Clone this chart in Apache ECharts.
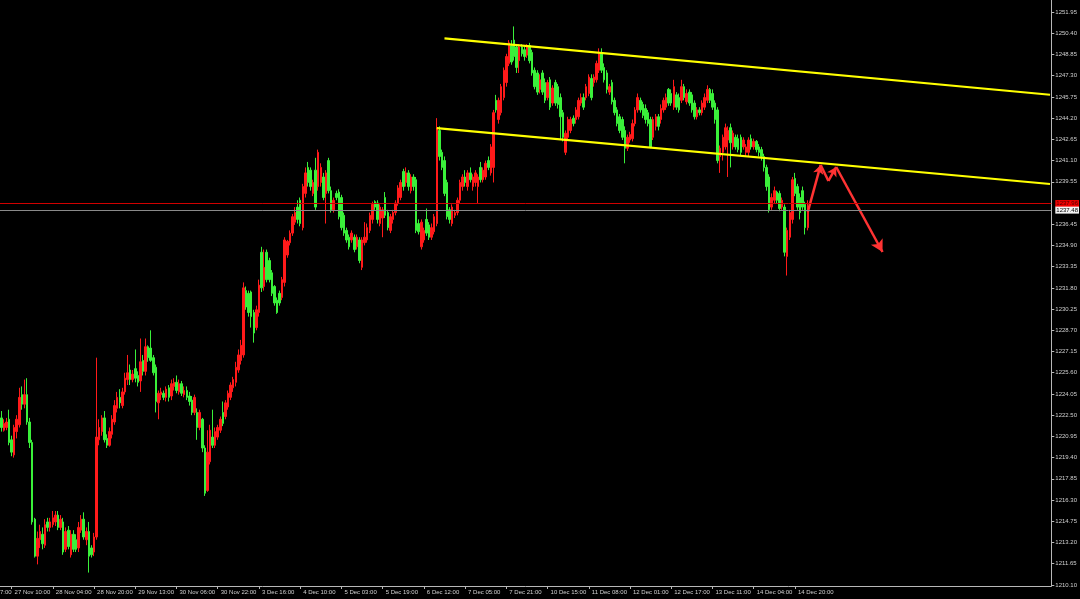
<!DOCTYPE html>
<html><head><meta charset="utf-8">
<script src="https://cdn.jsdelivr.net/npm/echarts@6.0.0/dist/echarts.min.js"></script>
<style>html,body{margin:0;padding:0;background:#000;}#c{width:1080px;height:599px;}</style>
</head><body><div id="c"></div>
<script>
// [open, close, low, high] per H1 bar (XAUUSD)
const ohlc = [
[1222.3,1221.6,1221.3,1222.8],[1221.4,1221.9,1221.3,1222.2],[1221.6,1222.0,1221.4,1222.3],[1222.2,1220.5,1220.3,1222.9],
[1220.7,1219.8,1219.5,1221.0],[1219.6,1221.6,1219.4,1221.8],[1221.3,1222.2,1220.8,1222.5],[1221.8,1223.8,1221.6,1224.5],
[1224.0,1223.3,1222.9,1224.6],[1223.3,1224.0,1223.0,1225.1],[1224.0,1222.0,1221.8,1225.2],[1222.0,1220.5,1220.1,1222.3],
[1220.5,1214.7,1214.5,1220.7],[1214.9,1212.2,1212.1,1215.0],[1212.2,1213.5,1211.6,1214.0],[1213.4,1214.0,1212.8,1214.5],
[1213.8,1213.1,1212.7,1214.3],[1213.0,1214.5,1212.8,1214.9],[1214.7,1214.3,1214.0,1215.0],[1214.3,1214.7,1214.0,1215.0],
[1214.5,1215.0,1214.3,1215.5],[1214.7,1215.2,1214.4,1215.5],[1215.2,1214.3,1214.1,1215.5],[1214.3,1214.9,1214.1,1215.2],
[1214.7,1212.5,1212.3,1215.0],[1212.7,1214.0,1212.5,1214.3],[1214.1,1212.9,1212.7,1214.4],[1212.3,1213.8,1212.1,1214.1],
[1213.8,1212.7,1212.5,1214.1],[1213.4,1212.7,1212.5,1213.8],[1212.8,1214.3,1212.5,1214.7],[1214.1,1214.9,1213.9,1215.2],
[1214.9,1213.6,1213.4,1215.4],[1213.4,1214.0,1213.0,1214.3],[1214.0,1212.2,1211.0,1214.7],[1212.8,1212.3,1212.1,1213.0],
[1212.5,1213.6,1212.2,1213.9],[1213.6,1220.9,1213.4,1226.7],[1220.7,1221.6,1220.3,1222.2],[1221.3,1222.3,1221.0,1222.5],
[1222.3,1220.7,1220.5,1222.8],[1220.8,1220.3,1220.1,1221.1],[1220.3,1221.3,1220.2,1221.6],[1221.1,1222.2,1220.8,1222.5],
[1222.0,1223.2,1221.8,1223.6],[1223.0,1223.8,1222.7,1224.2],[1223.8,1223.4,1223.0,1224.4],[1223.2,1224.2,1223.0,1224.5],
[1224.2,1225.2,1224.0,1225.6],[1225.1,1225.6,1224.7,1226.9],[1225.8,1225.1,1224.7,1226.2],[1225.1,1225.5,1224.9,1225.8],
[1225.9,1225.2,1224.9,1227.3],[1225.4,1224.9,1224.6,1225.7],[1225.0,1226.4,1224.2,1228.1],[1226.5,1225.7,1225.4,1226.9],
[1225.7,1227.5,1225.4,1228.1],[1227.5,1226.7,1226.4,1227.6],[1227.4,1226.5,1226.4,1228.7],[1226.7,1225.6,1225.4,1226.9],
[1226.0,1223.5,1222.7,1226.2],[1223.4,1224.1,1222.2,1224.3],[1224.0,1224.2,1223.6,1224.5],[1224.1,1223.8,1223.6,1224.3],
[1223.8,1224.4,1223.5,1224.6],[1224.5,1223.8,1223.5,1224.7],[1223.9,1224.8,1223.6,1225.1],[1224.6,1224.9,1224.3,1225.2],
[1224.9,1224.3,1224.1,1225.4],[1224.2,1224.8,1224.0,1225.1],[1224.8,1224.1,1223.9,1225.0],[1224.0,1224.3,1223.8,1224.6],
[1224.3,1223.8,1223.6,1224.6],[1223.9,1223.5,1223.2,1224.2],[1223.6,1222.7,1222.5,1223.9],[1222.7,1223.8,1222.5,1224.0],
[1222.7,1221.6,1220.7,1223.0],[1221.6,1222.7,1221.4,1222.9],[1222.2,1220.1,1219.8,1222.3],[1220.1,1216.8,1216.6,1220.3],
[1217.0,1219.8,1216.9,1221.4],[1219.1,1221.4,1218.9,1221.8],[1220.9,1220.3,1220.1,1222.9],[1220.3,1221.3,1220.1,1221.6],
[1220.9,1221.6,1220.7,1221.8],[1221.4,1222.2,1221.2,1222.4],[1222.7,1221.9,1221.7,1223.5],[1222.4,1223.4,1222.2,1223.6],
[1223.1,1224.1,1222.9,1224.3],[1223.8,1224.7,1223.6,1224.9],[1224.5,1225.1,1224.2,1225.3],[1224.9,1226.0,1224.6,1226.4],
[1225.8,1226.9,1225.6,1227.3],[1226.5,1227.6,1226.2,1228.0],[1226.9,1231.8,1226.7,1232.2],[1231.6,1230.4,1230.2,1231.9],
[1231.4,1230.0,1229.7,1231.6],[1231.5,1229.7,1228.9,1231.6],[1230.0,1228.5,1227.8,1230.2],[1228.9,1230.2,1228.7,1230.5],
[1230.0,1232.0,1229.7,1232.4],[1234.4,1231.8,1231.5,1234.8],[1231.9,1233.3,1231.6,1234.6],[1234.4,1232.4,1232.2,1234.6],
[1233.8,1232.4,1232.2,1234.0],[1232.9,1231.4,1231.2,1233.1],[1231.9,1230.7,1230.5,1232.0],[1230.9,1230.0,1229.9,1231.1],
[1231.4,1230.7,1230.5,1231.6],[1231.1,1232.4,1230.9,1232.6],[1232.2,1235.3,1231.9,1235.5],[1234.2,1235.2,1234.0,1235.3],
[1235.1,1235.8,1234.9,1236.0],[1235.8,1237.0,1235.6,1237.2],[1236.6,1237.3,1236.4,1237.7],[1237.7,1236.8,1236.5,1238.2],
[1238.2,1236.5,1236.3,1238.4],[1236.2,1239.2,1236.0,1239.4],[1238.7,1240.2,1238.4,1240.6],[1240.6,1239.5,1239.2,1241.0],
[1240.4,1239.2,1238.9,1240.6],[1238.7,1239.5,1238.5,1239.7],[1240.4,1237.7,1237.5,1241.3],[1239.2,1241.7,1238.9,1241.9],
[1239.5,1240.6,1239.2,1240.9],[1239.9,1238.4,1238.2,1240.2],[1238.7,1240.2,1236.5,1240.4],[1241.1,1238.9,1238.7,1241.3],
[1238.9,1237.5,1237.3,1239.2],[1237.5,1238.2,1237.3,1238.4],[1238.7,1238.4,1238.2,1238.9],[1238.8,1237.0,1236.8,1239.0],
[1238.4,1236.2,1236.0,1238.6],[1237.1,1235.8,1235.6,1237.3],[1236.0,1235.3,1235.1,1236.2],[1235.5,1234.8,1234.6,1235.7],
[1235.3,1235.8,1235.1,1236.0],[1235.5,1234.6,1234.4,1235.7],[1234.8,1235.5,1234.6,1235.7],[1235.3,1233.8,1233.6,1235.5],
[1233.3,1235.3,1233.1,1235.5],[1235.1,1235.5,1234.9,1236.6],[1235.3,1236.2,1235.1,1236.5],[1236.0,1237.1,1235.8,1237.3],
[1236.8,1237.9,1236.5,1238.1],[1238.1,1237.7,1237.5,1238.2],[1238.0,1236.8,1236.5,1238.2],[1236.5,1237.7,1236.3,1237.9],
[1236.9,1237.5,1235.5,1237.7],[1238.4,1237.1,1236.9,1238.8],[1237.3,1236.2,1236.0,1237.5],[1236.0,1237.0,1235.8,1237.2],
[1236.8,1237.3,1236.5,1237.5],[1237.3,1238.0,1237.1,1238.2],[1238.0,1239.1,1237.8,1239.3],[1238.4,1239.5,1238.2,1239.7],
[1240.3,1239.2,1238.9,1240.5],[1239.5,1240.2,1239.2,1240.6],[1240.2,1239.2,1238.9,1240.4],[1238.9,1239.9,1238.7,1240.1],
[1239.9,1239.2,1238.9,1240.1],[1239.7,1236.0,1235.8,1239.9],[1236.5,1235.9,1235.7,1236.8],[1234.8,1236.6,1234.6,1236.8],
[1235.3,1236.0,1235.1,1236.2],[1236.8,1235.8,1235.6,1237.6],[1236.4,1235.5,1235.3,1236.6],[1235.5,1236.2,1235.3,1236.5],
[1235.9,1237.0,1235.7,1237.2],[1236.5,1243.5,1236.3,1244.2],[1243.3,1241.4,1241.1,1243.6],[1241.7,1240.6,1240.4,1241.9],
[1241.1,1238.7,1238.5,1241.4],[1239.5,1237.0,1236.8,1239.7],[1237.5,1236.8,1236.5,1237.7],[1236.5,1237.7,1236.3,1237.9],
[1237.1,1237.3,1236.9,1237.5],[1237.3,1238.2,1237.1,1238.4],[1238.2,1239.5,1238.0,1239.7],[1239.2,1239.9,1238.9,1240.1],
[1239.9,1239.5,1239.2,1240.4],[1239.2,1240.2,1238.9,1240.4],[1240.2,1239.7,1239.5,1240.6],[1239.2,1239.9,1238.9,1240.1],
[1239.5,1240.2,1239.2,1240.4],[1239.2,1239.9,1238.0,1240.1],[1240.6,1239.7,1239.5,1241.0],[1239.7,1240.4,1239.5,1240.6],
[1239.9,1240.9,1239.7,1241.1],[1241.1,1240.6,1240.4,1241.4],[1240.2,1242.1,1240.0,1242.3],[1240.6,1244.6,1239.5,1244.8],
[1245.5,1244.8,1244.6,1245.9],[1244.1,1245.5,1243.8,1245.7],[1244.6,1246.5,1244.4,1246.7],[1245.7,1247.7,1245.5,1247.9],
[1246.8,1248.7,1246.5,1248.9],[1248.2,1249.7,1248.0,1249.9],[1249.5,1248.3,1248.1,1249.9],[1249.9,1248.7,1248.4,1250.9],
[1249.4,1247.9,1247.5,1249.6],[1248.4,1249.4,1247.5,1249.6],[1249.4,1248.9,1248.7,1249.6],[1249.2,1248.7,1248.4,1249.4],
[1248.8,1249.4,1248.6,1249.6],[1249.5,1248.4,1248.2,1249.7],[1249.0,1247.5,1247.3,1249.2],[1247.7,1246.5,1246.3,1247.9],
[1247.5,1246.1,1245.9,1247.7],[1246.3,1247.0,1246.0,1247.4],[1247.5,1246.1,1245.9,1247.7],[1246.8,1245.5,1245.3,1247.1],
[1245.7,1246.8,1245.5,1247.0],[1247.0,1245.0,1244.8,1247.2],[1245.3,1246.4,1245.1,1246.6],[1246.8,1245.3,1245.1,1247.0],
[1246.5,1245.2,1244.9,1246.7],[1245.7,1244.3,1242.6,1246.0],[1244.6,1242.8,1242.5,1244.8],[1241.7,1243.1,1241.5,1243.3],
[1242.8,1244.1,1242.6,1244.3],[1243.3,1244.1,1243.1,1244.3],[1244.2,1243.8,1243.6,1244.4],[1244.1,1244.8,1243.8,1245.0],
[1244.3,1245.5,1244.1,1245.7],[1245.3,1245.7,1245.1,1246.0],[1245.7,1245.0,1244.8,1246.0],[1245.7,1246.5,1245.5,1246.7],
[1246.0,1247.2,1245.8,1247.4],[1247.1,1245.7,1245.5,1247.4],[1246.8,1247.2,1246.5,1247.4],[1247.0,1248.2,1246.8,1248.4],
[1247.7,1248.9,1247.5,1249.3],[1248.9,1247.7,1247.5,1249.3],[1247.9,1247.0,1246.8,1248.2],[1247.5,1246.3,1246.0,1247.7],
[1246.1,1246.5,1245.9,1246.7],[1246.8,1245.4,1245.2,1247.0],[1245.5,1244.6,1244.4,1245.7],[1244.8,1243.8,1243.6,1245.0],
[1244.3,1243.3,1243.1,1244.5],[1244.1,1242.8,1242.6,1244.3],[1243.3,1242.0,1240.9,1243.6],[1242.0,1242.8,1241.8,1243.0],
[1242.6,1243.0,1242.4,1243.2],[1242.7,1243.8,1242.5,1244.1],[1243.8,1244.8,1243.6,1245.0],[1244.8,1245.7,1244.6,1246.0],
[1245.5,1244.8,1244.6,1245.7],[1245.2,1244.4,1244.2,1245.4],[1244.9,1244.1,1243.8,1245.2],[1244.6,1243.8,1243.6,1244.8],
[1244.1,1242.1,1242.0,1244.3],[1242.8,1244.1,1242.6,1244.3],[1243.6,1244.3,1243.3,1244.5],[1244.3,1243.6,1243.3,1244.5],
[1244.1,1244.9,1243.8,1245.2],[1244.8,1245.5,1244.6,1245.7],[1245.0,1245.7,1244.8,1246.0],[1246.3,1245.3,1245.1,1246.4],
[1246.0,1245.3,1245.1,1246.3],[1245.0,1246.5,1244.8,1247.0],[1245.9,1245.0,1244.8,1246.1],[1245.7,1244.8,1244.6,1246.0],
[1245.5,1246.5,1245.3,1247.0],[1246.5,1245.7,1245.5,1246.7],[1245.4,1246.0,1245.2,1246.3],[1246.1,1245.3,1245.1,1246.3],
[1245.9,1244.8,1244.6,1246.1],[1245.3,1244.3,1244.1,1245.5],[1244.3,1244.8,1244.1,1245.0],[1244.8,1244.6,1244.4,1245.0],
[1244.6,1245.3,1244.4,1245.5],[1245.0,1245.7,1244.8,1246.0],[1245.5,1246.3,1245.3,1246.6],[1246.3,1245.5,1245.3,1246.4],
[1246.0,1245.0,1244.8,1246.3],[1245.3,1244.1,1243.8,1245.5],[1244.8,1241.1,1240.9,1245.0],[1241.4,1242.0,1240.2,1242.2],
[1241.7,1242.8,1241.1,1243.0],[1242.1,1243.5,1241.9,1243.8],[1242.6,1243.3,1239.9,1243.6],[1243.5,1242.4,1240.6,1243.8],
[1242.1,1243.1,1241.9,1243.3],[1242.8,1242.1,1241.9,1243.0],[1242.7,1241.9,1241.7,1243.0],[1242.8,1241.7,1241.5,1243.0],
[1242.1,1242.6,1241.9,1242.8],[1241.7,1242.1,1241.4,1242.3],[1241.7,1242.6,1241.4,1242.8],[1242.7,1242.1,1241.9,1243.0],
[1242.1,1242.5,1241.9,1242.7],[1242.5,1241.9,1241.7,1242.6],[1242.1,1241.7,1241.4,1242.3],[1241.9,1241.4,1241.1,1242.1],
[1241.4,1240.6,1240.3,1241.6],[1240.6,1239.2,1238.9,1240.8],[1239.9,1237.5,1237.3,1240.1],[1237.7,1238.4,1237.5,1238.7],
[1238.2,1238.9,1238.0,1239.2],[1238.8,1238.2,1238.0,1238.9],[1238.7,1237.6,1237.4,1238.9],[1237.7,1238.2,1237.5,1238.4],
[1237.7,1234.4,1234.1,1237.9],[1234.1,1236.0,1232.7,1236.2],[1235.5,1237.3,1235.3,1237.5],[1236.8,1239.7,1236.5,1239.9],
[1239.8,1238.7,1238.5,1240.2],[1239.2,1237.7,1237.5,1239.4],[1238.4,1237.3,1236.8,1238.7],[1238.9,1237.7,1237.5,1239.2],
[1237.9,1236.2,1235.7,1238.1],[1236.2,1237.5,1236.0,1238.2]
];
const barCount = 408; // bar slots across the visible window
const categories = Array.from({length: barCount}, (_, i) => String(i));
const tickIndex = [4,20,36,52,68,84,100,116,132,148,164,180,196,212,228,244,260,276,292,308];
const tickLabels = ['27 Nov 10:00','28 Nov 04:00','28 Nov 20:00','29 Nov 13:00','30 Nov 06:00','30 Nov 22:00',
  '3 Dec 16:00','4 Dec 10:00','5 Dec 03:00','5 Dec 19:00','6 Dec 12:00','7 Dec 05:00','7 Dec 21:00',
  '10 Dec 15:00','11 Dec 08:00','12 Dec 01:00','12 Dec 17:00','13 Dec 11:00','14 Dec 04:00','14 Dec 20:00'];
const yTicks = [1210.10,1211.65,1213.20,1214.75,1216.30,1217.85,1219.40,1220.95,1222.50,1224.05,1225.60,1227.15,
  1228.70,1230.25,1231.80,1233.35,1234.90,1236.45,1239.55,1241.10,1242.65,1244.20,1245.75,1247.30,1248.85,1250.40,1251.95];
const askPrice = 1237.96;
const bidPrice = 1237.48;
const upperTrend = [[172, 1250.03], [407, 1245.91]];
const lowerTrend = [[169, 1243.47], [407, 1239.39]];
const arrowPath = [[313, 1237.35], [318, 1240.78], [321, 1239.61], [324, 1240.63], [342, 1234.42]];
const arrowHeads = [true, false, true, true];

const upColor = '#ff1a1a', downColor = '#3af03a';
const txt = '#d0d0d0', axisCol = '#b8b8b8';
const font = 'Liberation Sans';

const lineData = [];
lineData.push([{coord: upperTrend[0], lineStyle: {color: '#ffff00', width: 2.2, type: 'solid'}}, {coord: upperTrend[1]}]);
lineData.push([{coord: lowerTrend[0], lineStyle: {color: '#ffff00', width: 2.2, type: 'solid'}}, {coord: lowerTrend[1]}]);
for (let k = 0; k < arrowPath.length - 1; k++) {
  lineData.push([
    {coord: arrowPath[k], symbol: 'none', lineStyle: {color: '#ff3333', width: 2.5, type: 'solid'}},
    {coord: arrowPath[k + 1], symbol: arrowHeads[k] ? 'arrow' : 'none', symbolSize: k === 3 ? [10, 12] : [8, 9]}
  ]);
}
lineData.push({yAxis: askPrice, lineStyle: {color: '#d00000', width: 1, type: 'solid', opacity: 1},
  label: {show: true, position: 'end', distance: 4, formatter: askPrice.toFixed(2), backgroundColor: '#f00000',
    color: '#4a0000', fontSize: 6, fontFamily: font, padding: [1, 1, 0, 1]}});
lineData.push({yAxis: bidPrice, lineStyle: {color: '#8a8a8a', width: 1, type: 'solid', opacity: 1},
  label: {show: true, position: 'end', distance: 4, formatter: bidPrice.toFixed(2), backgroundColor: '#f4f4f4',
    color: '#000', fontSize: 6, fontFamily: font, padding: [1, 1, 0, 1]}});

const chart = echarts.init(document.getElementById('c'), null, {renderer: 'canvas'});
chart.setOption({
  backgroundColor: '#000000',
  animation: false,
  grid: {left: 0, right: 28, top: 0, bottom: 13, containLabel: false},
  xAxis: {
    type: 'category', data: categories, boundaryGap: true,
    axisLine: {show: true, lineStyle: {color: axisCol, width: 1}},
    axisTick: {show: true, alignWithLabel: true, length: 3, lineStyle: {color: axisCol},
      interval: (i) => tickIndex.includes(i)},
    axisLabel: {show: true, interval: (i) => tickIndex.includes(i), align: 'left', margin: 3,
      padding: [0, 0, 0, 3], color: txt, fontSize: 6, fontFamily: font,
      formatter: (v, i) => { const k = tickIndex.indexOf(i); return k >= 0 ? tickLabels[k] : ''; }},
    splitLine: {show: false}
  },
  yAxis: {
    type: 'value', position: 'right', min: 1210.02, max: 1252.83, scale: true,
    axisLine: {show: true, lineStyle: {color: axisCol, width: 1}},
    axisTick: {show: true, inside: false, length: 3, lineStyle: {color: axisCol}, customValues: yTicks},
    axisLabel: {show: true, color: txt, fontSize: 6, fontFamily: font, margin: 4, customValues: yTicks,
      formatter: (v) => v.toFixed(2)},
    splitLine: {show: false}
  },
  graphic: [{type: 'text', left: 0, top: 589, style: {text: '7:00', fill: txt, font: '6px ' + font}}],
  series: [{
    type: 'candlestick', data: ohlc, barWidth: 2,
    itemStyle: {color: upColor, color0: downColor, borderColor: upColor, borderColor0: downColor, borderWidth: 1},
    emphasis: {disabled: true},
    markLine: {silent: true, symbol: 'none', animation: false, label: {show: false}, data: lineData}
  }]
});
</script></body></html>
